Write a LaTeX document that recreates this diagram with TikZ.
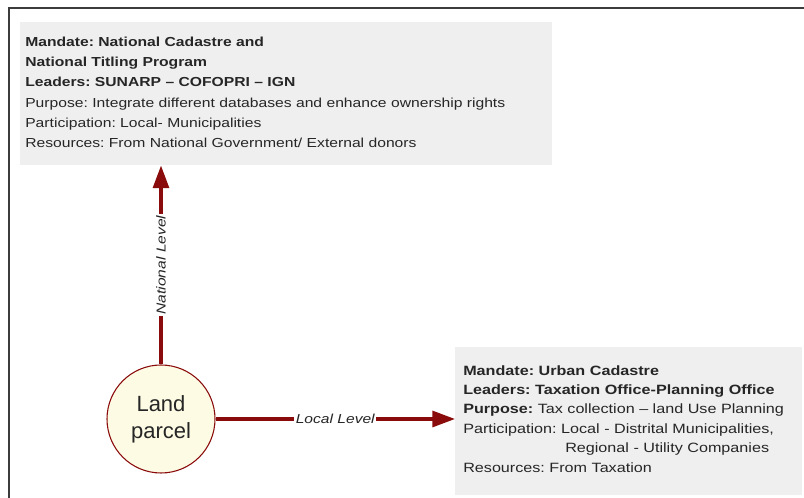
\documentclass[tikz,border=0pt]{standalone}
\usepackage{fontspec}
\setmainfont{Liberation Sans}
\newfontfamily\boxfont[FakeStretch=1.2]{Liberation Sans}
\usetikzlibrary{arrows.meta}
\definecolor{arrowred}{HTML}{8A0B0B}
\definecolor{boxgray}{HTML}{EFEFEF}
\definecolor{txt}{HTML}{262626}
\definecolor{cream}{HTML}{FDFBE4}
\definecolor{framegray}{HTML}{3C3C3C}
\begin{document}
\frenchspacing
\begin{tikzpicture}[x=0.75pt,y=-0.75pt,
  infobox/.style={fill=boxgray, draw=none, anchor=north west, inner sep=0pt},
  boxtext/.style={anchor=north west, align=left, inner sep=0pt, text=txt, font=\boxfont\fontsize{9.8pt}{15.1pt}\selectfont},
  levelarrow/.style={draw=arrowred, line width=2.3pt, -{Triangle[length=17pt,width=12pt]}},
  levellabel/.style={fill=white, inner sep=1pt, text=txt, font=\boxfont\itshape\fontsize{9.75pt}{12pt}\selectfont},
  parcel/.style={circle, draw=arrowred, line width=0.8pt, fill=cream, minimum size=81pt, inner sep=0pt, align=center, text=txt, font=\fontsize{16.5pt}{20.25pt}\selectfont},
  frameline/.style={draw=framegray, line width=1.6pt}
]
\useasboundingbox (0,0) rectangle (804,498);
\coordinate (fbl) at (9,500);
\coordinate (ftl) at (9,8);
\coordinate (ftr) at (806,8);
\draw[frameline] (fbl) -- (ftl) -- (ftr);

\node[infobox, minimum width=399pt, minimum height=107.25pt] (natbox) at (20,22) {};
\node[boxtext] (nattext) at (25,37) {\textbf{Mandate: National Cadastre and}\\
\textbf{National Titling Program}\\
\textbf{Leaders: SUNARP – COFOPRI – IGN}\\
Purpose: Integrate different databases and enhance ownership rights\\
Participation: Local- Municipalities\\
Resources: From National Government/ External donors};

\node[infobox, minimum width=260.25pt, minimum height=111pt] (locbox) at (455,347) {};
\node[boxtext, font=\boxfont\fontsize{10.1pt}{14.6pt}\selectfont] (loctext) at (463,365) {\textbf{Mandate: Urban Cadastre}\\
\textbf{Leaders: Taxation Office-Planning Office}\\
\textbf{Purpose:} Tax collection – land Use Planning\\
Participation: Local - Distrital Municipalities,\\
\hspace*{76.5pt}Regional - Utility Companies\\
Resources: From Taxation};

\node[parcel] (land) at (161,419) {Land\\parcel};

\draw[levelarrow] (land) -- (land |- natbox.south)
  node[levellabel, midway, rotate=90] (natlabel) {National Level};
\draw[levelarrow] (land) -- (locbox.west |- land)
  node[levellabel, midway] (loclabel) {Local Level};
\end{tikzpicture}
\end{document}
